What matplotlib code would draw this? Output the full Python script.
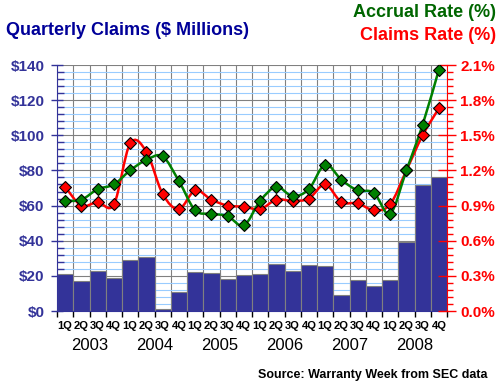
import matplotlib
matplotlib.use('Agg')
import matplotlib.pyplot as plt
import numpy as np
from matplotlib.path import Path
from matplotlib.patches import PathPatch
from matplotlib.ticker import MultipleLocator, FuncFormatter

plt.rcParams['font.family'] = ['Liberation Sans', 'DejaVu Sans']

years = ['2003', '2004', '2005', '2006', '2007', '2008']
quarters = ['1Q', '2Q', '3Q', '4Q']

# quarterly claims, $ millions (2003 1Q .. 2008 4Q)
claims = [21, 17, 23, 19, 29, 31, 1, 11, 22, 21.5, 18, 20.5,
          21, 27, 23, 26, 25.5, 9, 17.5, 14.5, 17.5, 39, 71.5, 76.5]
# rates in percent
accrual_rate = [0.94, 0.95, 1.04, 1.08, 1.20, 1.29, 1.32, 1.11, 0.86, 0.83, 0.81, 0.73,
                0.94, 1.06, 0.98, 1.04, 1.25, 1.12, 1.03, 1.01, 0.83, 1.20, 1.59, 2.06]
claims_rate = [1.06, 0.90, 0.93, 0.91, 1.43, 1.36, 1.00, 0.87, 1.03, 0.95, 0.90, 0.89,
               0.87, 0.95, 0.94, 0.96, 1.08, 0.93, 0.92, 0.86, 0.91, 1.20, 1.50, 1.73]

BLUE = '#333399'
GREEN = '#008000'
RED = '#ff0000'


def smooth_path(x, y):
    # cubic bezier through the points (like a spreadsheet "smoothed line")
    pts = np.column_stack([x, y])
    n = len(pts)
    verts = [pts[0]]
    codes = [Path.MOVETO]
    for i in range(n - 1):
        p0 = pts[max(i - 1, 0)]
        p1 = pts[i]
        p2 = pts[i + 1]
        p3 = pts[min(i + 2, n - 1)]
        verts += [p1 + (p2 - p0) / 6, p2 - (p3 - p1) / 6, p2]
        codes += [Path.CURVE4] * 3
    return Path(verts, codes)


fig = plt.figure(figsize=(5, 3.86), dpi=100)
ax = fig.add_axes([0.114, 0.1943, 0.78, 0.6373])
ax2 = ax.twinx()

n = len(claims)
xc = np.arange(n) + 0.5

ax.bar(xc, claims, width=1.0, color=BLUE, edgecolor='#808080', linewidth=0.8, zorder=2)
ax.set_xlim(0, n)
ax.set_ylim(0, 140)
ax.set_axisbelow(True)

ax.yaxis.set_major_locator(MultipleLocator(20))
ax.yaxis.set_minor_locator(MultipleLocator(4))
ax.yaxis.set_major_formatter(FuncFormatter(lambda v, p: '$%d' % v))
ax.grid(which='major', axis='y', color='#808080', linewidth=0.8)
ax.grid(which='minor', axis='y', color='#99ccff', linewidth=0.8)
ax.set_xticks(np.arange(n + 1))
ax.set_xticklabels([])
ax.grid(which='major', axis='x', color='#808080', linewidth=0.8)
ax.set_xticks(xc, minor=True)
ax.set_xticklabels(quarters * len(years), minor=True, fontsize=8, fontweight='bold')
ax.tick_params(axis='x', which='major', direction='out', length=4, color='black', width=1)
ax.tick_params(axis='x', which='minor', length=0, pad=7)

ax.tick_params(axis='y', which='major', direction='inout', length=8, color=BLUE, width=1,
               labelcolor=BLUE, labelsize=11, pad=5)
ax.tick_params(axis='y', which='minor', direction='in', length=5, color=BLUE, width=1)
for lab in ax.get_yticklabels():
    lab.set_fontweight('bold')

for s in ['top', 'right']:
    ax.spines[s].set_visible(False)
ax.spines['left'].set_color(BLUE)
ax.spines['bottom'].set_color(BLUE)

for i, yr in enumerate(years):
    ax.text(i * 4 + 2, -0.142, yr, transform=ax.get_xaxis_transform(),
            ha='center', va='center', fontsize=12)

# rates on right axis
ax2.set_ylim(0, 2.1)
ax2.yaxis.set_major_locator(MultipleLocator(0.3))
ax2.yaxis.set_minor_locator(MultipleLocator(0.06))
ax2.yaxis.set_major_formatter(FuncFormatter(lambda v, p: '%.1f%%' % v))
ax2.tick_params(axis='y', which='major', direction='inout', length=13, color=RED, width=1,
                labelcolor=RED, labelsize=11, pad=3)
ax2.tick_params(axis='y', which='minor', direction='out', length=4, color=RED, width=1)
for lab in ax2.get_yticklabels():
    lab.set_fontweight('bold')
for s in ['top', 'left', 'bottom']:
    ax2.spines[s].set_visible(False)
ax2.spines['right'].set_color(RED)

for vals, col in [(claims_rate, RED), (accrual_rate, GREEN)]:
    ax2.add_patch(PathPatch(smooth_path(xc, vals), facecolor='none', edgecolor=col,
                            linewidth=1.8, zorder=3))
    ax2.plot(xc, vals, linestyle='none', marker='D', markersize=6.5, markerfacecolor=col,
             markeredgecolor='black', markeredgewidth=0.8, zorder=4)

fig.text(0.012, 0.909, 'Quarterly Claims ($ Millions)', color='#000099', fontsize=13,
         fontweight='bold', ha='left', va='baseline')
fig.text(0.992, 0.957, 'Accrual Rate (%)', color='#006600', fontsize=13,
         fontweight='bold', ha='right', va='baseline')
fig.text(0.992, 0.896, 'Claims Rate (%)', color=RED, fontsize=13,
         fontweight='bold', ha='right', va='baseline')
fig.text(0.975, 0.021, 'Source: Warranty Week from SEC data', color='black', fontsize=9,
         fontweight='bold', ha='right', va='baseline')

fig.savefig('out.png', dpi=100)
